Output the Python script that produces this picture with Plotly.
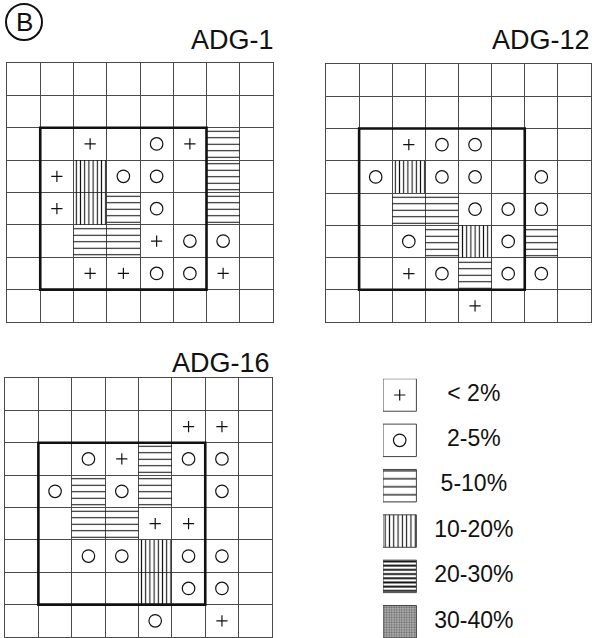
import plotly.graph_objects as go

W, H = 592, 638

# ---------------- data ----------------
PANEL_TITLES = ["ADG-1", "ADG-12", "ADG-16"]

# cell classes, row 0 = top row, column 0 = left column
# '+' <2%, 'o' 2-5%, 'h' 5-10%, 'v' 10-20%, 'd' 20-30%, 's' 30-40%, '.' none
ADG_1 = [
    "........",
    "........",
    "..+.o+h.",
    ".+voo.h.",
    ".+vho.h.",
    "..hh+oo.",
    "..++oo+.",
    "........",
]
ADG_12 = [
    "........",
    "........",
    "..+oo...",
    ".ovoo.o.",
    "..hhooo.",
    "..ohvoh.",
    "..+ohoo.",
    "....+...",
]
ADG_16 = [
    "........",
    ".....++.",
    "..o+hoo.",
    ".ohoh.o.",
    "..hh++..",
    "..oovoo.",
    "....voo.",
    "....o.+.",
]

LEGEND_CODES = ["+", "o", "h", "v", "d", "s"]
LEGEND_LABELS = ["< 2%", "2-5%", "5-10%", "10-20%", "20-30%", "30-40%"]

INNER_COLS = (1, 6)
INNER_ROWS = (2, 7)

# ---------------- styles ----------------
FONT = "Liberation Sans, Arial, Helvetica, sans-serif"
INK = "#111111"
GRID = "#4a4a4a"

PATTERNS = {
    "h": dict(shape="-", size=6.5, solidity=0.16),
    "v": dict(shape="|", size=4.2, solidity=0.26),
    "d": dict(shape="-", size=4.0, solidity=0.45),
    "s": dict(shape=".", size=2.5, solidity=0.45),
}
PAT_FG = {"h": INK, "v": INK, "d": INK, "s": "#6a6a6a"}
PAT_BG = {"h": "white", "v": "white", "d": "white", "s": "#b8b8b8"}

# panel boxes in pixels: (left, right, top, bottom)
PANEL_BOXES = [(7, 273, 63, 322), (326, 591, 64, 322), (5, 272, 378, 637)]
TITLE_POS = [(276, 40), (592, 40), (272, 363)]
LEGEND_BOX = (383, 530, 378.75, 638)


def xd(a, b):
    return [a / W, b / W]


def yd(top, bottom):
    return [max(0, 1 - bottom / H), min(1, 1 - top / H)]


fig = go.Figure()
grids = [ADG_1, ADG_12, ADG_16]
suffixes = ["", "2", "3"]

for k, grid in enumerate(grids):
    sx = suffixes[k]
    xa, ya = "x" + sx, "y" + sx
    cells = {}
    for r, line in enumerate(grid):
        for c, code in enumerate(line):
            if code != ".":
                cells.setdefault(code, []).append((r, c))
    for code, rc in cells.items():
        rows = [r for r, _ in rc]
        cols = [c for _, c in rc]
        if code in PATTERNS:
            fig.add_trace(go.Bar(
                x=[c + 0.5 for c in cols], y=[1] * len(rows), base=rows,
                width=1, xaxis=xa, yaxis=ya, showlegend=False,
                marker=dict(color="rgba(0,0,0,0)", line=dict(width=0),
                            pattern=dict(**PATTERNS[code], fgcolor=PAT_FG[code],
                                         bgcolor=PAT_BG[code] if code == "s" else "rgba(0,0,0,0)",
                                         fillmode="replace")),
                hoverinfo="skip"))
        else:
            sym = "cross-thin-open" if code == "+" else "circle-open"
            size = 8 if code == "+" else 12.5
            fig.add_trace(go.Scatter(
                x=[c + 0.5 for c in cols], y=[r + 0.5 for r in rows],
                mode="markers", xaxis=xa, yaxis=ya, showlegend=False,
                marker=dict(symbol=sym, size=size, color=INK,
                            line=dict(width=1.2, color=INK)),
                hoverinfo="skip"))
    L, R, T, B = PANEL_BOXES[k]
    axcommon = dict(showgrid=True, gridcolor=GRID, gridwidth=1, dtick=1, tick0=0,
                    showticklabels=False, ticks="", zeroline=False,
                    showline=True, mirror=True, linecolor=GRID, linewidth=1,
                    fixedrange=True)
    fig.update_layout(**{
        "xaxis" + sx: dict(domain=xd(L, R), range=[0, 8], anchor=ya, **axcommon),
        "yaxis" + sx: dict(domain=yd(T, B), range=[8, 0], anchor=xa, **axcommon),
    })
    fig.add_shape(type="rect", xref=xa, yref=ya,
                  x0=INNER_COLS[0], x1=INNER_COLS[1], y0=INNER_ROWS[0], y1=INNER_ROWS[1],
                  line=dict(color=INK, width=2.6), layer="above")
    tx, ty = TITLE_POS[k]
    fig.add_annotation(text=PANEL_TITLES[k], xref="paper", yref="paper",
                       x=tx / W, y=1 - ty / H, xanchor="right", yanchor="middle",
                       showarrow=False, font=dict(family=FONT, size=27, color=INK))

# ---------------- legend (own axes) ----------------
n = len(LEGEND_CODES)
half = 0.358
idx = list(range(n))
fig.add_trace(go.Bar(
    x=[0.5] * n, y=[2 * half] * n, base=[i - half for i in idx], width=1,
    xaxis="x4", yaxis="y4", showlegend=False, hoverinfo="skip",
    marker=dict(
        color="white", line=dict(width=1, color="#444444"),
        pattern=dict(
            shape=[PATTERNS[c]["shape"] if c in PATTERNS else "" for c in LEGEND_CODES],
            size=[{"h": 8, "v": 4.3, "d": 4.2, "s": 2.5}.get(c, 8) for c in LEGEND_CODES],
            solidity=[PATTERNS[c]["solidity"] if c in PATTERNS else 0.3 for c in LEGEND_CODES],
            fgcolor=[PAT_FG.get(c, INK) for c in LEGEND_CODES],
            bgcolor=[PAT_BG.get(c, "white") for c in LEGEND_CODES],
            fillmode="replace"))))
for code, sym, size in [("+", "cross-thin-open", 8), ("o", "circle-open", 12.5)]:
    ii = [i for i, c in enumerate(LEGEND_CODES) if c == code]
    fig.add_trace(go.Scatter(
        x=[0.5] * len(ii), y=ii, mode="markers", xaxis="x4", yaxis="y4",
        showlegend=False, hoverinfo="skip",
        marker=dict(symbol=sym, size=size, color=INK, line=dict(width=1.2, color=INK))))
fig.add_trace(go.Scatter(
    x=[2.72] * n, y=idx, mode="text", text=LEGEND_LABELS, textposition="middle center",
    xaxis="x4", yaxis="y4", showlegend=False, hoverinfo="skip",
    textfont=dict(family=FONT, size=23, color=INK)))
L, R, T, B = LEGEND_BOX
fig.update_layout(
    xaxis4=dict(domain=xd(L, R), range=[0, (R - L) / 33.4], visible=False, anchor="y4", fixedrange=True),
    yaxis4=dict(domain=yd(T, B), range=[n - 1 + half, -half], visible=False, anchor="x4", fixedrange=True),
)

# circled B
cx, cy, rr = 24, 22, 18
fig.add_shape(type="circle", xref="paper", yref="paper",
              x0=(cx - rr) / W, x1=(cx + rr) / W, y0=1 - (cy + rr) / H, y1=1 - (cy - rr) / H,
              line=dict(color=INK, width=2))
fig.add_annotation(text="B", xref="paper", yref="paper", x=cx / W, y=1 - cy / H,
                   xanchor="center", yanchor="middle", showarrow=False,
                   font=dict(family=FONT, size=26, color=INK))

fig.update_layout(
    width=W, height=H, margin=dict(l=0, r=0, t=0, b=0),
    paper_bgcolor="white", plot_bgcolor="white", barmode="overlay",
    showlegend=False,
)

fig.write_html("out.html", config={"displayModeBar": False, "staticPlot": True},
               post_script="document.body.style.margin='0';document.body.style.overflow='hidden';")
